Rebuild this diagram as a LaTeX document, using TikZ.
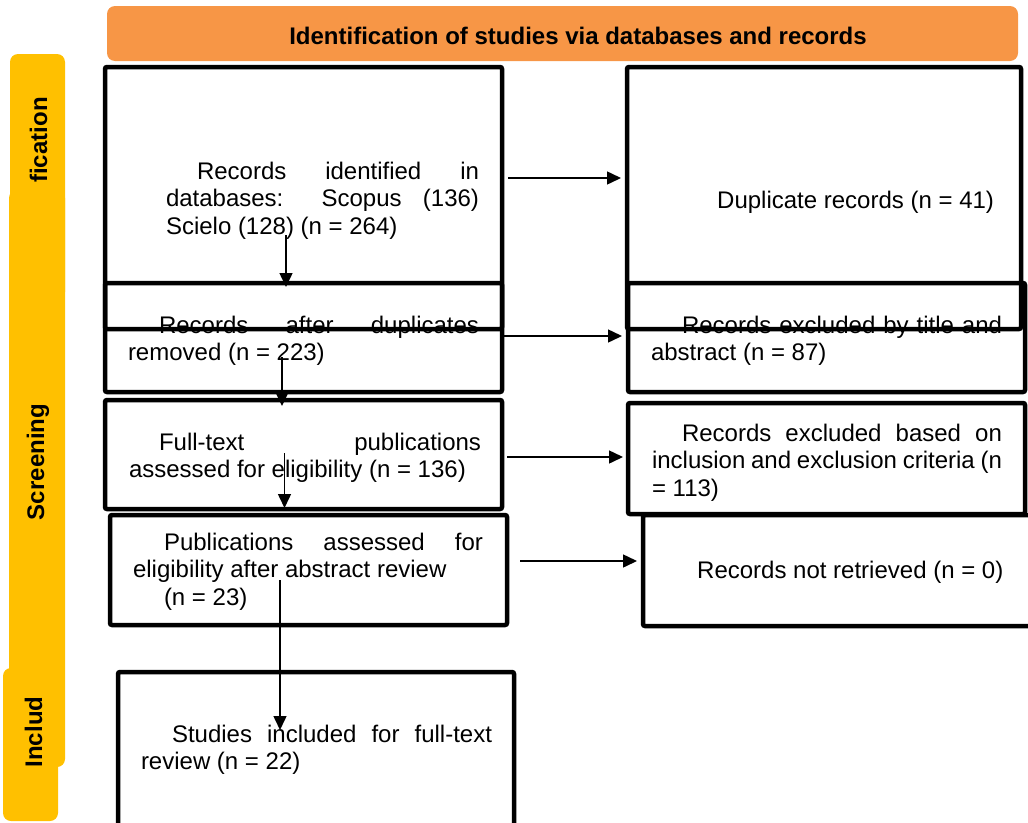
\documentclass[tikz,border=0pt]{standalone}
\usepackage{fontspec}
\setmainfont{Liberation Sans}
\usetikzlibrary{arrows.meta}
\definecolor{hdr}{HTML}{F79646}
\definecolor{sidebar}{HTML}{FFC000}
\tolerance=10000
\hyphenpenalty=10000
\newcommand\ind[1]{\hspace*{#1pt}\relax}
\begin{document}
\begin{tikzpicture}[x=1pt,y=-1pt,
  box/.style={draw=black,line width=4.5pt,rounded corners=2pt,inner sep=0pt,outer sep=0pt,anchor=north west},
  txt/.style={anchor=base west,inner sep=0pt,outer sep=0pt,align=justify,
    font=\fontsize{24}{27.6}\selectfont},
  plain/.style={anchor=base west,inner sep=0pt,font=\fontsize{24}{27.6}\selectfont},
  side/.style={rotate=90,anchor=base,inner sep=0pt,font=\bfseries\fontsize{24}{28}\selectfont},
  arr/.style={line width=1.5pt,-{Triangle[length=14pt,width=13pt]}}]
\useasboundingbox (0,0) rectangle (1028,822);
\clip (0,0) rectangle (1028,822);
% side bars
\fill[sidebar,rounded corners=8pt] (10,54) rectangle (65,300);
\fill[sidebar,rounded corners=8pt] (9,190) rectangle (65,767);
\fill[sidebar,rounded corners=8pt] (3,668) rectangle (58,821);
\node[side] (s1) at (47,140) {fication};
\node[side] (s2) at (44,462) {Screening};
\node[side] (s3) at (42,732) {Includ};
% header
\fill[hdr,rounded corners=8pt] (107,6) rectangle (1018,61);
\node[anchor=base,inner sep=0pt,font=\bfseries\fontsize{24}{28}\selectfont] (hd) at (578,44) {Identification of studies via databases and records};
% texts
\node[txt,text width=313pt] (tA) at (166,179) {\ind{31}Records identified in\linebreak databases: Scopus (136)\linebreak Scielo (128) (n = 264)};
\node[txt,text width=351pt] (tB) at (128,333) {\ind{31}Records after duplicates\linebreak removed (n = 223)};
\node[txt,text width=352pt] (tC) at (129,450) {\ind{30}Full-text publications\linebreak assessed for eligibility (n = 136)};
\node[txt,text width=350pt] (tD) at (133,550) {\ind{31}Publications assessed for\linebreak eligibility after abstract review\par\ind{31}(n = 23)};
\node[txt,text width=351pt] (tE) at (141,742) {\ind{31}Studies included for full-text\linebreak review (n = 22)};
\node[plain] (tF) at (717,208) {Duplicate records (n = 41)};
\node[txt,text width=351pt] (tG) at (651,333) {\ind{31}Records excluded by title and\linebreak abstract (n = 87)};
\node[txt,text width=350pt] (tH) at (652,441) {\ind{30}Records excluded based on\linebreak inclusion and exclusion criteria (n\linebreak = 113)};
\node[plain] (tI) at (697,578) {Records not retrieved (n = 0)};
% boxes
\node[box,minimum width=397pt,minimum height=109pt] (B) at (105,283) {};
\node[box,minimum width=397pt,minimum height=262pt] (A) at (105,67) {};
\node[box,minimum width=397pt,minimum height=109pt] (C) at (105,400) {};
\node[box,minimum width=397pt,minimum height=110pt] (D) at (110,515) {};
\node[box,minimum width=396pt,minimum height=180pt] (E) at (118,672) {};
\node[box,minimum width=397pt,minimum height=109pt] (G) at (628,283) {};
\node[box,minimum width=394pt,minimum height=262pt] (F) at (627,67) {};
\node[box,minimum width=397pt,minimum height=111pt] (I) at (643,515) {};
\node[box,minimum width=397pt,minimum height=111pt] (H) at (628,403) {};
% connectors
\coordinate (a1) at (508,178);
\coordinate (b1) at (503,336);
\coordinate (c1) at (507,457);
\coordinate (d1) at (520,561);
\coordinate (v1) at (286,235);
\coordinate (v2) at (282,357);
\coordinate (v3) at (284.5,453);
\coordinate (v4) at (280,580);
\coordinate (e1) at (280,730);
\draw[arr,shorten >=6pt] (a1) -- (a1 -| F.west);
\draw[arr,shorten >=6pt] (b1) -- (b1 -| G.west);
\draw[arr,shorten >=5pt] (c1) -- (c1 -| H.west);
\draw[arr,shorten >=6pt] (d1) -- (d1 -| I.west);
\draw[arr,shorten >=-4pt] (v1) -- (v1 |- B.north);
\draw[arr,shorten >=-6pt] (v2) -- (v2 |- C.north);
\draw[arr,shorten >=7pt] (v3) -- (v3 |- D.north);
\draw[arr] (v4) -- (e1);
\end{tikzpicture}
\end{document}
